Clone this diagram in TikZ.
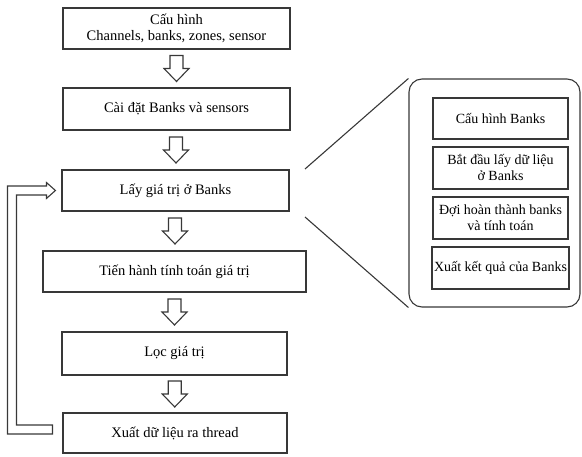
\documentclass[tikz,border=0pt]{standalone}
\usepackage{fontspec}
\setmainfont{Liberation Serif}
\usetikzlibrary{calc}
\definecolor{ink}{gray}{0.22}
\tikzset{
  stepbox/.style={draw=ink, line width=1.1pt, rectangle, align=center,
    inner sep=2pt, font=\fontsize{14.5}{16}\selectfont},
  subbox/.style={stepbox, minimum width=135pt, minimum height=42pt,
    font=\fontsize{14}{16}\selectfont},
  panelbox/.style={draw=ink, line width=1.1pt, rounded corners=13pt,
    minimum width=171pt, minimum height=228pt},
  hollow/.style={draw=ink, line width=1.1pt, fill=white, line join=miter},
  zoomline/.style={draw=ink, line width=1.1pt},
}
% hollow block arrow pointing down, centred on a coordinate
\newcommand{\downblock}[1]{%
  \draw[hollow] ($(#1)+(-6.5,-13)$) -- ($(#1)+(6.5,-13)$) -- ($(#1)+(6.5,0)$)
    -- ($(#1)+(12.5,0)$) -- ($(#1)+(0,13)$) -- ($(#1)+(-12.5,0)$)
    -- ($(#1)+(-6.5,0)$) -- cycle;}
\begin{document}
\begin{tikzpicture}[x=1pt, y=-1pt]
\useasboundingbox (0,0) rectangle (582,457);

% main flow
\node[stepbox, minimum width=227pt, minimum height=41pt] (b1) at (176.5,28.5)
  {Cấu hình\\Channels, banks, zones, sensor};
\node[stepbox, minimum width=227pt, minimum height=42pt] (b2) at (176.5,109)
  {Cài đặt Banks và sensors};
\node[stepbox, minimum width=227pt, minimum height=41pt] (b3) at (175.5,190.5)
  {Lấy giá trị ở Banks};
\node[stepbox, minimum width=263pt, minimum height=41pt] (b4) at (174.5,271.5)
  {Tiến hành tính toán giá trị};
\node[stepbox, minimum width=225pt, minimum height=43pt] (b5) at (174.5,353.5)
  {Lọc giá trị};
\node[stepbox, minimum width=224pt, minimum height=40pt] (b6) at (175,433)
  {Xuất dữ liệu ra thread};

% arrows between consecutive steps
\foreach \a/\b in {b1/b2, b2/b3, b3/b4, b4/b5, b5/b6}{
  \coordinate (m-\a) at ($(\a.south)!0.5!(\b.north)$);
  \downblock{m-\a}
}

% loop back from the last step to the data acquisition step
\draw[hollow] let \p1=(b6.west), \p2=(b3.west) in
  (\x1-10pt,\y1+8pt) -- (\x2-45pt,\y1+8pt) -- (\x2-45pt,\y2-4.5pt)
  -- (\x2-15pt,\y2-4.5pt) -- (\x2-15pt,\y2-8pt) -- (\x2-6pt,\y2)
  -- (\x2-15pt,\y2+8pt) -- (\x2-15pt,\y2+4.5pt) -- (\x2-54pt,\y2+4.5pt)
  -- (\x2-54pt,\y1-1pt) -- (\x1-10pt,\y1-1pt) -- cycle;

% detail panel for the bank acquisition step
\node[panelbox] (panel) at (494.5,193) {};
\node[subbox, minimum height=41pt] (s1) at (500.5,118.5) {Cấu hình Banks};
\node[subbox] (s2) at (500.5,168) {Bắt đầu lấy dữ liệu\\ở Banks};
\node[subbox] (s3) at (500.5,218) {Đợi hoàn thành banks\\và tính toán};
\node[subbox] (s4) at (500.5,268) {Xuất kết quả của Banks};

\coordinate (z1) at (305,169);
\coordinate (z2) at (305,217);
\draw[zoomline] (z1) -- (panel.north west);
\draw[zoomline] (z2) -- (panel.south west);
\end{tikzpicture}
\end{document}
